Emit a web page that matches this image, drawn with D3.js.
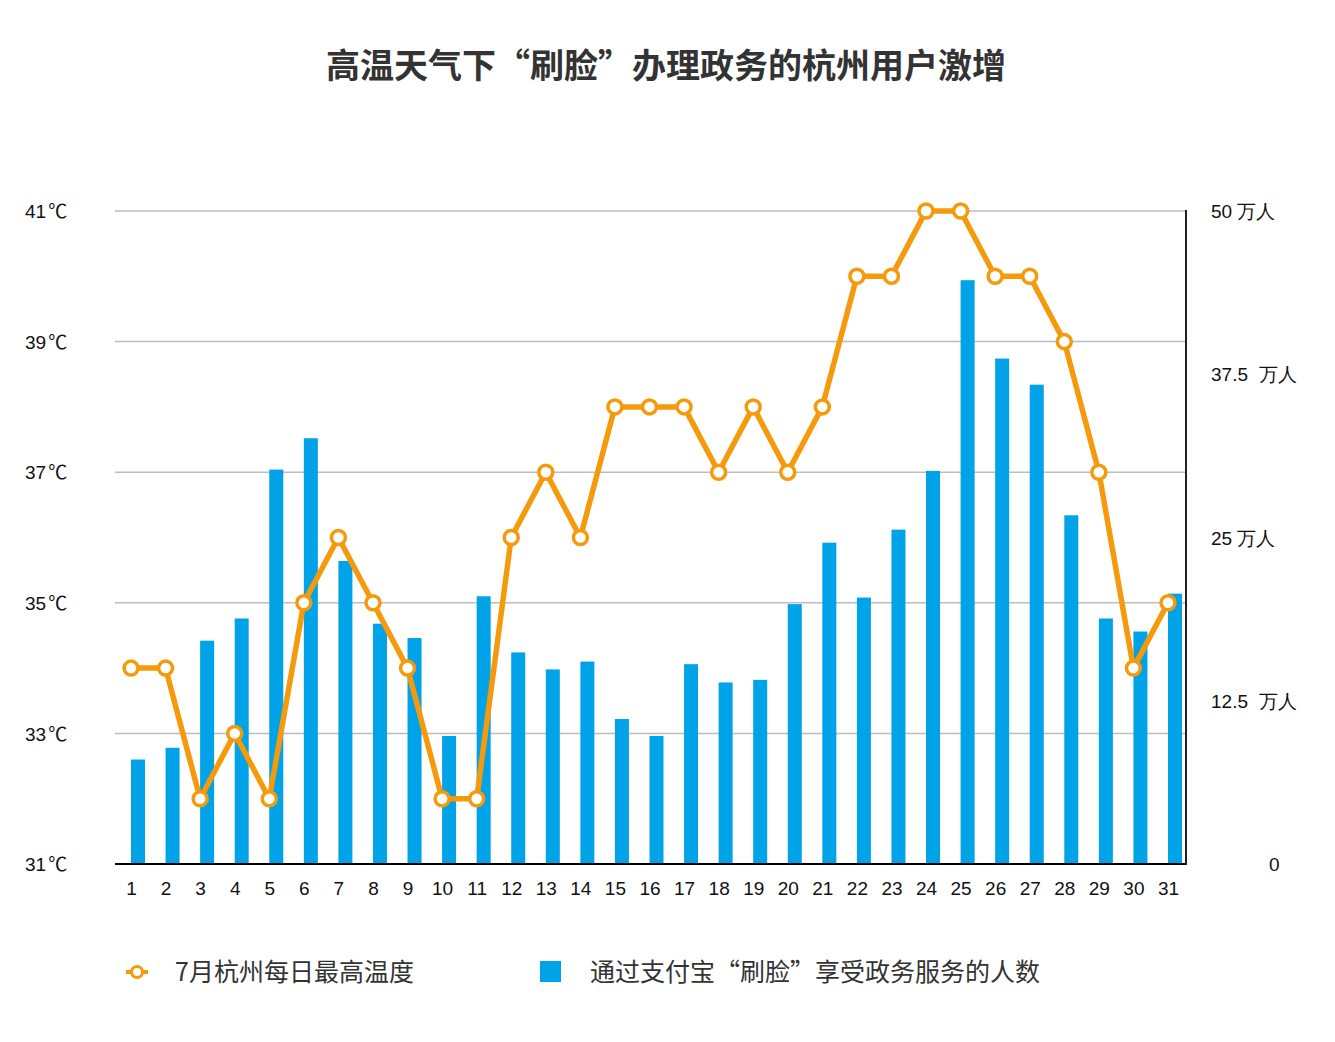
<!DOCTYPE html>
<html><head><meta charset="utf-8">
<script src="https://cdn.jsdelivr.net/npm/d3@7/dist/d3.min.js"></script>
<style>body{margin:0;background:#fff;font-family:"Noto Sans CJK SC","Liberation Sans",sans-serif;}</style>
</head><body><svg id="c" width="1335" height="1042"></svg>
<script>
const days = d3.range(1, 32);
const temps = [34,34,32,33,32,35,36,35,34,32,32,36,37,36,38,38,38,37,38,37,38,40,40,41,41,40,40,39,37,34,35];
const users = [8.0,8.9,17.1,18.8,30.2,32.6,23.2,18.4,17.3,9.8,20.5,16.2,14.9,15.5,11.1,9.8,15.3,13.9,14.1,19.9,24.6,20.4,25.6,30.1,44.7,38.7,36.7,26.7,18.8,17.8,20.7];
const tempTicks = [31,33,35,37,39,41];
const userTicks = [0,12.5,25,37.5,50];
const title = "高温天气下“刷脸”办理政务的杭州用户激增";
const legendLabels = ["7月杭州每日最高温度","通过支付宝“刷脸”享受政务服务的人数"];

const orange = "#F59A0C", blue = "#00A2E8";
const svg = d3.select("#c");
const x = d3.scalePoint().domain(days).range([131, 1168]);
const yT = d3.scaleLinear().domain([31, 41]).range([864, 211]);
const yU = d3.scaleLinear().domain([0, 50]).range([864, 211]);
const barW = 14;
const tickFont = "Liberation Sans, Arial, sans-serif";

svg.append("text").attr("x", 666).attr("y", 78).attr("text-anchor", "middle")
  .attr("font-size", 34).attr("font-weight", "bold").attr("fill", "#333").text(title);

// grid
svg.append("g").selectAll("line").data(tempTicks.slice(1)).join("line")
  .attr("x1", 115).attr("x2", 1186).attr("y1", d => yT(d)).attr("y2", d => yT(d))
  .attr("stroke", "#bdbdbd").attr("stroke-width", 1.5);

// left axis labels
const la = svg.append("g").attr("transform", "translate(25,0)")
  .call(d3.axisRight(yT).tickValues(tempTicks).tickSize(0).tickPadding(0).tickFormat(d => d));
la.select(".domain").remove();
la.selectAll("text").attr("font-size", 19).attr("fill", "#111").attr("font-family", tickFont).attr("dy", "0.35em")
  .each(function() {
    const t = d3.select(this);
    t.append("tspan").attr("dx", 2).attr("font-family", "Noto Sans CJK SC").attr("font-size", 19).text("℃");
  });

// right axis labels
const ra = svg.append("g").attr("transform", "translate(1211,0)")
  .call(d3.axisRight(yU).tickValues(userTicks).tickSize(0).tickPadding(0).tickFormat(d => d === 0 ? "0" : (d === 50 || d === 25 ? d + " 万人" : d + "  万人")));
ra.select(".domain").remove();
ra.selectAll("text").attr("font-size", 19).attr("fill", "#111").attr("font-family", tickFont).attr("dy", "0.35em")
  .attr("x", d => d === 0 ? 58 : 0).style("white-space", "pre");

// bars
svg.append("g").selectAll("rect").data(days).join("rect")
  .attr("x", d => x(d)).attr("width", barW)
  .attr("y", (d, i) => yU(users[i])).attr("height", (d, i) => yU(0) - yU(users[i]))
  .attr("fill", blue);

// baseline and right axis line
svg.append("line").attr("x1", 115).attr("x2", 1187).attr("y1", 864).attr("y2", 864).attr("stroke", "#000").attr("stroke-width", 2);
svg.append("line").attr("x1", 1186).attr("x2", 1186).attr("y1", 210).attr("y2", 865).attr("stroke", "#222").attr("stroke-width", 2);

// x axis labels
const xa = svg.append("g").attr("transform", "translate(0,888)")
  .call(d3.axisBottom(x).tickSize(0).tickPadding(0));
xa.select(".domain").remove();
xa.selectAll("text").attr("font-size", 19).attr("fill", "#111").attr("font-family", tickFont).attr("dy", "0.35em");

// line
svg.append("path").datum(days)
  .attr("d", d3.line().x(d => x(d)).y((d, i) => yT(temps[i])))
  .attr("fill", "none").attr("stroke", orange).attr("stroke-width", 5.5).attr("stroke-linejoin", "round");
svg.append("g").selectAll("circle").data(days).join("circle")
  .attr("cx", d => x(d)).attr("cy", (d, i) => yT(temps[i])).attr("r", 7)
  .attr("fill", "#fff").attr("stroke", orange).attr("stroke-width", 3.5);

// legend
const lg = svg.append("g");
lg.append("line").attr("x1", 126).attr("x2", 148).attr("y1", 972).attr("y2", 972).attr("stroke", orange).attr("stroke-width", 4);
lg.append("circle").attr("cx", 137).attr("cy", 972).attr("r", 5.5).attr("fill", "#fff").attr("stroke", orange).attr("stroke-width", 3);
lg.append("text").attr("x", 175).attr("y", 972).attr("dy", "0.35em").attr("font-size", 25).attr("fill", "#333").text(legendLabels[0]);
lg.append("rect").attr("x", 540).attr("y", 961).attr("width", 21).attr("height", 21).attr("fill", blue);
lg.append("text").attr("x", 590).attr("y", 972).attr("dy", "0.35em").attr("font-size", 25).attr("fill", "#333").text(legendLabels[1]);
</script></body></html>
